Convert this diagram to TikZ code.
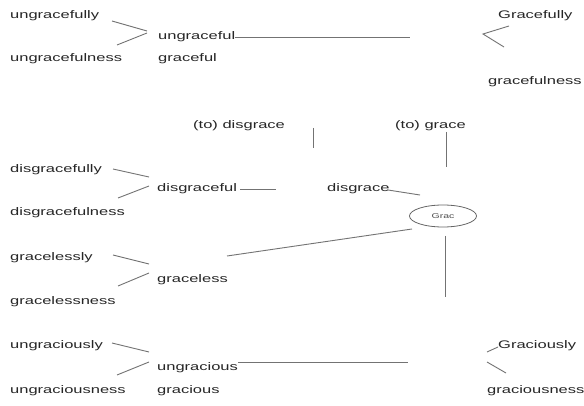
\documentclass[tikz,border=0pt]{standalone}
\usepackage{fontspec}
\setmainfont{Liberation Sans}
\usepackage{graphicx}
\newcommand{\wide}[1]{\scalebox{1.5}[1]{#1}}
\tikzset{
  word/.style={anchor=base west, inner sep=0pt, text=black!85, font=\fontsize{11}{13}\selectfont},
  link/.style={draw=black!55, line width=0.9pt},
  rootnode/.style={draw=black!60, line width=0.8pt, ellipse, minimum width=67pt, minimum height=22pt, inner sep=0pt, text=black!70, font=\fontsize{7}{8}\selectfont}
}
\usetikzlibrary{shapes.geometric}
\begin{document}
\begin{tikzpicture}[x=1pt,y=-1pt]
\useasboundingbox[fill=white] (0,0) rectangle (584,406);
% words
\node[word] (ungracefully) at (10,19) {\wide{ungracefully}};
\node[word] (ungracefulness) at (10,62) {\wide{ungracefulness}};
\node[word] (ungraceful) at (158,40) {\wide{ungraceful}};
\node[word] (graceful) at (158,62) {\wide{graceful}};
\node[word] (Gracefully) at (498,19) {\wide{Gracefully}};
\node[word] (gracefulness) at (488,85) {\wide{gracefulness}};
\node[word] (todisgrace) at (193,129) {\wide{(to) disgrace}};
\node[word] (tograce) at (395,129) {\wide{(to) grace}};
\node[word] (disgracefully) at (10,173) {\wide{disgracefully}};
\node[word] (disgraceful) at (157,192) {\wide{disgraceful}};
\node[word] (disgrace) at (327,192) {\wide{disgrace}};
\node[word] (disgracefulness) at (10,216) {\wide{disgracefulness}};
\node[rootnode] (grac) at (443,216) {\wide{Grac}};
\node[word] (gracelessly) at (10,261) {\wide{gracelessly}};
\node[word] (graceless) at (157,283) {\wide{graceless}};
\node[word] (gracelessness) at (10,305) {\wide{gracelessness}};
\node[word] (ungraciously) at (10,348) {\wide{ungraciously}};
\node[word] (ungracious) at (157,370) {\wide{ungracious}};
\node[word] (ungraciousness) at (10,393) {\wide{ungraciousness}};
\node[word] (gracious) at (157,393) {\wide{gracious}};
\node[word] (Graciously) at (498,348) {\wide{Graciously}};
\node[word] (graciousness) at (487,393) {\wide{graciousness}};
% connector end points
\coordinate (a1) at (112,21); \coordinate (a2) at (147,31);
\coordinate (a3) at (147,33); \coordinate (a4) at (117,45);
\coordinate (b1) at (235,37); \coordinate (b2) at (410,37);
\coordinate (c1) at (509,26); \coordinate (c2) at (483,34); \coordinate (c3) at (504,47);
\coordinate (d1) at (313,128); \coordinate (d2) at (313,148);
\coordinate (e1) at (446,132); \coordinate (e2) at (446,167);
\coordinate (f1) at (113,169); \coordinate (f2) at (149,177);
\coordinate (f3) at (149,186); \coordinate (f4) at (118,198);
\coordinate (g1) at (240,189); \coordinate (g2) at (276,189);
\coordinate (h1) at (388,190); \coordinate (h2) at (420,195);
\coordinate (i1) at (227,256); \coordinate (i2) at (412,229);
\coordinate (j1) at (445,236); \coordinate (j2) at (445,297);
\coordinate (k1) at (113,255); \coordinate (k2) at (149,264);
\coordinate (k3) at (149,273); \coordinate (k4) at (118,286);
\coordinate (l1) at (112,343); \coordinate (l2) at (149,352);
\coordinate (l3) at (149,362); \coordinate (l4) at (117,375);
\coordinate (m1) at (238,362); \coordinate (m2) at (408,362);
\coordinate (n1) at (487,352); \coordinate (n2) at (498,347);
\coordinate (n3) at (487,362); \coordinate (n4) at (506,373);
% connectors
\draw[link] (a1) -- (a2); \draw[link] (a3) -- (a4);
\draw[link] (b1) -- (b2);
\draw[link] (c1) -- (c2) -- (c3);
\draw[link] (d1) -- (d2);
\draw[link] (e1) -- (e2);
\draw[link] (f1) -- (f2); \draw[link] (f3) -- (f4);
\draw[link] (g1) -- (g2);
\draw[link] (h1) -- (h2);
\draw[link] (i1) -- (i2);
\draw[link] (j1) -- (j2);
\draw[link] (k1) -- (k2); \draw[link] (k3) -- (k4);
\draw[link] (l1) -- (l2); \draw[link] (l3) -- (l4);
\draw[link] (m1) -- (m2);
\draw[link] (n1) -- (n2); \draw[link] (n3) -- (n4);
\end{tikzpicture}
\end{document}
